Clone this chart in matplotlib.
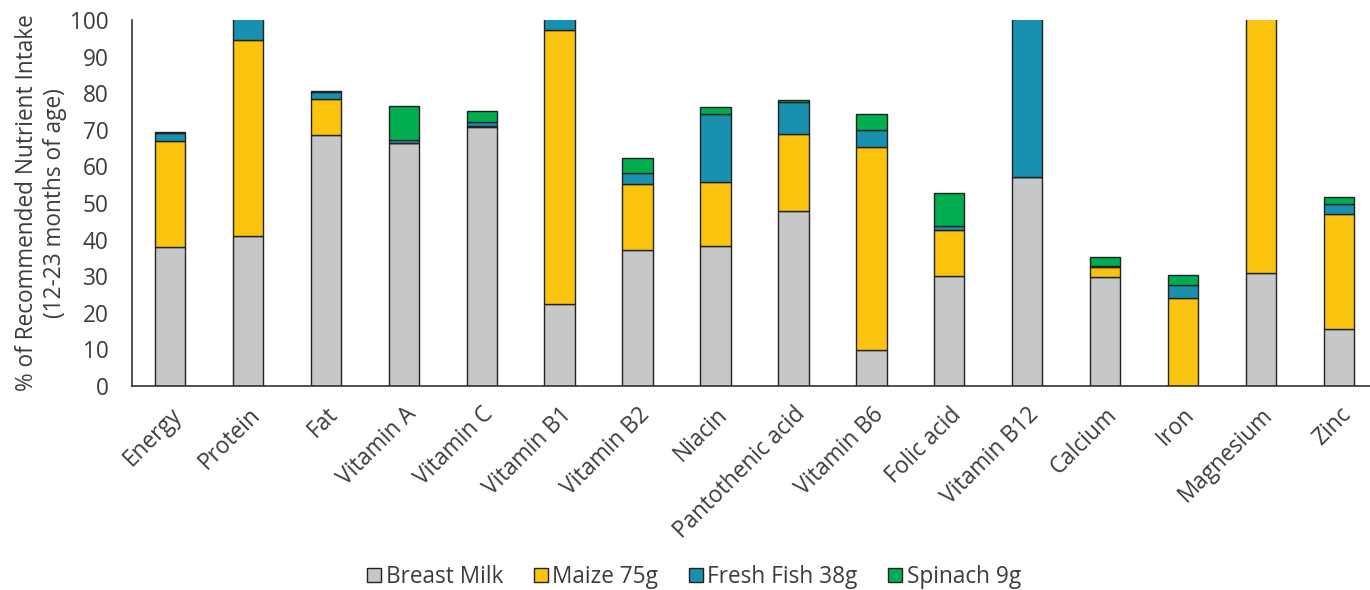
import matplotlib
matplotlib.use("Agg")
import matplotlib.pyplot as plt
import numpy as np

plt.rcParams['font.family'] = ['Open Sans', 'DejaVu Sans']

nutrients = ["Energy", "Protein", "Fat", "Vitamin A", "Vitamin C", "Vitamin B1",
             "Vitamin B2", "Niacin", "Pantothenic acid", "Vitamin B6", "Folic acid",
             "Vitamin B12", "Calcium", "Iron", "Magnesium", "Zinc"]

breast_milk = [38.0, 41.1, 68.6, 66.4, 70.9, 22.3, 37.2, 38.3, 47.9, 9.9, 30.0, 57.2, 29.7, 0.0, 30.9, 15.6]
maize_75g = [29.0, 53.5, 9.9, 0.1, 0.1, 74.9, 17.9, 17.5, 20.9, 55.4, 12.5, 0.0, 2.7, 24.0, 80.0, 31.4]
fish_38g = [2.2, 10.0, 1.9, 0.8, 1.2, 5.0, 3.0, 18.6, 8.7, 4.7, 1.3, 60.0, 0.5, 3.5, 5.0, 2.8]
spinach_9g = [0.3, 1.0, 0.3, 9.2, 2.9, 1.0, 4.3, 1.8, 0.7, 4.2, 8.9, 1.0, 2.3, 2.7, 2.0, 1.9]

series = [("Breast Milk", breast_milk, "#C6C7C8"),
          ("Maize 75g", maize_75g, "#F9C30E"),
          ("Fresh Fish 38g", fish_38g, "#1A90AF"),
          ("Spinach 9g", spinach_9g, "#00AE4F")]

text_color = "#3c3c3c"
fs = 16.3

fig = plt.figure(figsize=(13.7, 5.9), dpi=100)
ax = fig.add_axes([132 / 1370, 1 - 386 / 590, 1 - 132 / 1370, (386 - 20) / 590])

x = np.arange(len(nutrients))
bottom = np.zeros(len(nutrients))
for name, vals, col in series:
    vals = np.array(vals)
    ax.bar(x, vals, bottom=bottom, width=0.39, color=col, edgecolor="#222222",
           linewidth=1.0, label=name)
    bottom += vals

ax.set_xlim(-0.488, 15.40)
ax.set_ylim(0, 100)
ax.set_yticks(range(0, 101, 10))
ax.set_xticks(x)
ax.set_xticklabels(nutrients, rotation=45, ha="right", rotation_mode="anchor")
ax.tick_params(axis="both", length=0, labelsize=fs, colors=text_color)
ax.tick_params(axis="x", pad=12)
ax.tick_params(axis="y", pad=17)

for s in ["top", "right"]:
    ax.spines[s].set_visible(False)
for s in ["left", "bottom"]:
    ax.spines[s].set_color("#333333")
    ax.spines[s].set_linewidth(1.2)

ax.set_ylabel("% of Recommended Nutrient Intake\n(12-23 months of age)",
              fontsize=fs, color=text_color, linespacing=1.2, labelpad=2)

leg = fig.legend(loc="center", bbox_to_anchor=(694 / 1370, 1 - 577 / 590), ncol=4,
                 frameon=False, fontsize=fs, handlelength=0.62, handleheight=0.62,
                 handletextpad=0.2, columnspacing=1.35)
for t in leg.get_texts():
    t.set_color(text_color)

fig.savefig("out.png", dpi=100)
